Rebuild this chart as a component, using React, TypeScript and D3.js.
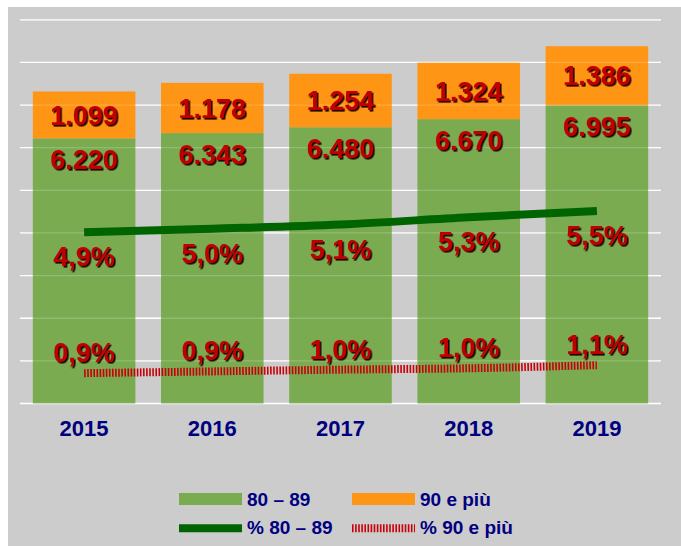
import React from 'react';
import * as d3 from 'd3';

const years = ['2015', '2016', '2017', '2018', '2019'];
const age8089 = [6220, 6343, 6480, 6670, 6995];
const age90 = [1099, 1178, 1254, 1324, 1386];
const pct8089 = [4.91, 5.01, 5.13, 5.34, 5.52];
const pct90 = [0.87, 0.92, 0.97, 1.01, 1.1];
const yTicks = [0, 1000, 2000, 3000, 4000, 5000, 6000, 7000, 8000, 9000];

const W = 681;
const H = 546;
const FONT = '"Liberation Sans", Arial, sans-serif';
const GREEN = '#7aab51';
const ORANGE = '#ff9515';
const DARKGREEN = '#006400';
const RED = '#c8000a';
const NAVY = '#000080';
const LABEL = '#c00000';

const it = d3.formatLocale({ decimal: ',', thousands: '.', grouping: [3], currency: ['', '€'] });
const fmtInt = it.format(',d');
const fmtPct = (v: number) => v.toFixed(1).replace('.', ',') + '%';

// bold red label, dark drop shadow comes from the svg filter
const Label: React.FC<{ x: number; y: number; text: string }> = ({ x, y, text }) => (
  <text x={x} y={y} fill={LABEL} fontFamily={FONT} fontWeight="bold" fontSize={27}
    textAnchor="middle" filter="url(#shadow)">{text}</text>
);

const App: React.FC = () => {
  const x = d3.scaleBand().domain(years).range([20, 661]).paddingInner(0.2).paddingOuter(0.1);
  const y = d3.scaleLinear().domain([0, 9000]).range([403.5, 19.8]);
  const y2 = d3.scaleLinear().domain([0, 11]).range([403.5, 19.8]);
  const cx = (yr: string) => (x(yr) ?? 0) + x.bandwidth() / 2;

  const line = d3.line<number>()
    .x((_, i) => cx(years[i]))
    .curve(d3.curveMonotoneX);
  const greenPath = line.y(d => y2(d))(pct8089) ?? '';
  const redPath = line.y(d => y2(d))(pct90) ?? '';

  const cap = 27 * 0.716;

  return (
    <svg width={W} height={H} style={{ position: 'absolute', left: 0, top: 0 }}>
      <defs>
        <filter id="shadow" x="-10%" y="-20%" width="130%" height="150%">
          <feDropShadow dx={1.6} dy={1.6} stdDeviation={0.2} floodColor="#1a0000" floodOpacity={1} />
        </filter>
      </defs>
      <rect x={0} y={0} width={W} height={H} fill="#ffffff" />
      <rect x={8} y={7} width={W - 8} height={H - 7} fill="#cccccc" />

      {yTicks.map(t => (
        <line key={t} x1={20} x2={661} y1={y(t)} y2={y(t)} stroke="#ffffff" strokeWidth={1.3} />
      ))}

      {years.map((yr, i) => (
        <g key={yr}>
          <rect x={x(yr)} y={y(age8089[i])} width={x.bandwidth()} height={y(0) - y(age8089[i])} fill={GREEN} />
          <rect x={x(yr)} y={y(age8089[i] + age90[i])} width={x.bandwidth()} height={y(age8089[i]) - y(age8089[i] + age90[i])} fill={ORANGE} />
        </g>
      ))}

      {/* gridlines faintly showing through the bars */}
      {yTicks.map(t => (
        <line key={'f' + t} x1={20} x2={661} y1={y(t)} y2={y(t)} stroke="#ffffff" strokeWidth={1.3} opacity={0.18} />
      ))}

      <path d={greenPath} fill="none" stroke={DARKGREEN} strokeWidth={8} />
      <path d={redPath} fill="none" stroke={RED} strokeWidth={8} strokeDasharray="1.6 1.5" />

      {years.map((yr, i) => {
        const top = y(age8089[i] + age90[i]);
        const mid = y(age8089[i]);
        return (
          <g key={'l' + yr}>
            <Label x={cx(yr)} y={(top + mid) / 2 + cap / 2} text={fmtInt(age90[i])} />
            <Label x={cx(yr)} y={mid + 31} text={fmtInt(age8089[i])} />
            <Label x={cx(yr)} y={y2(pct8089[i]) + 34} text={fmtPct(pct8089[i])} />
            <Label x={cx(yr)} y={y2(pct90[i]) - 11} text={fmtPct(pct90[i])} />
            <text x={cx(yr)} y={436} textAnchor="middle" fontFamily={FONT} fontWeight="bold" fontSize={22} fill={NAVY}>{yr}</text>
          </g>
        );
      })}

      {/* legend */}
      <g fontFamily={FONT} fontWeight="bold" fontSize={19} fill={NAVY}>
        <rect x={179} y={493} width={63} height={12} fill={GREEN} />
        <text x={247} y={506}>80 – 89</text>
        <rect x={352} y={493} width={63} height={12} fill={ORANGE} />
        <text x={420} y={506}>90 e più</text>
        <line x1={179} x2={242} y1={528.3} y2={528.3} stroke={DARKGREEN} strokeWidth={8} />
        <text x={247} y={534}>% 80 – 89</text>
        <line x1={352} x2={415} y1={528.3} y2={528.3} stroke={RED} strokeWidth={8} strokeDasharray="1.6 1.5" />
        <text x={420} y={534}>% 90 e più</text>
      </g>
    </svg>
  );
};

export default App;
